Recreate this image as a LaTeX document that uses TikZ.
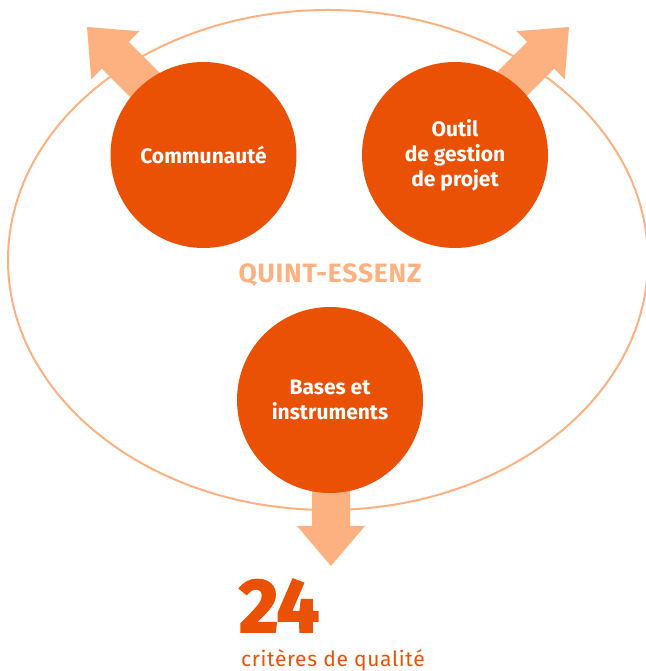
\documentclass[tikz,border=0pt]{standalone}
\usepackage{fontspec}
\setmainfont{Fira Sans}
\newfontfamily\heavyfont[BoldFeatures={FakeBold=2.5}]{Fira Sans}
\definecolor{darkor}{RGB}{234,81,5}
\definecolor{lightor}{RGB}{253,177,128}
\tikzset{
  bubble/.style={circle, fill=darkor, minimum size=186pt, inner sep=0pt, text=white,
    align=center, font=\fontsize{21}{25}\selectfont\bfseries},
  bigarrow/.style={fill=lightor, draw=none},
  ring/.style={draw=lightor, line width=2pt},
}
\begin{document}
\begin{tikzpicture}[x=1pt,y=1pt]
\useasboundingbox (0,0) rectangle (645,671);
% ellipse
\draw[ring] (328,411) ellipse [x radius=320, y radius=250];
% arrows
\foreach \tx/\ty/\ang/\len in {87/644/135/150, 569/644/45/150, 331/105/-90/120}{
  \begin{scope}[shift={(\tx,\ty)}, rotate=\ang]
    \fill[bigarrow] (0,0) -- (-40,34) -- (-40,19) -- (-\len,19) -- (-\len,-19) -- (-40,-19) -- (-40,-34) -- cycle;
  \end{scope}
}
% circles
\node[bubble] (comm) at (203.5,516) {Communauté};
\node[bubble] (outil) at (455,516) {Outil\\de gestion\\de projet};
\node[bubble] (bases) at (330,271) {Bases et\\instruments};
% label
\node[anchor=base, text=lightor, font=\fontsize{26.5}{30}\selectfont\bfseries\addfontfeature{LetterSpace=3}] (qe) at (330,388) {QUINT-ESSENZ};
\node[anchor=base west, inner sep=0pt, text=darkor, font=\fontsize{76}{80}\heavyfont\selectfont\bfseries] (num) at (239,39) {24};
\node[anchor=base west, inner sep=0pt, text=darkor, font=\fontsize{21}{25}\selectfont\addfontfeature{LetterSpace=3}] (crit) at (241,5) {critères de qualité};
\end{tikzpicture}
\end{document}
